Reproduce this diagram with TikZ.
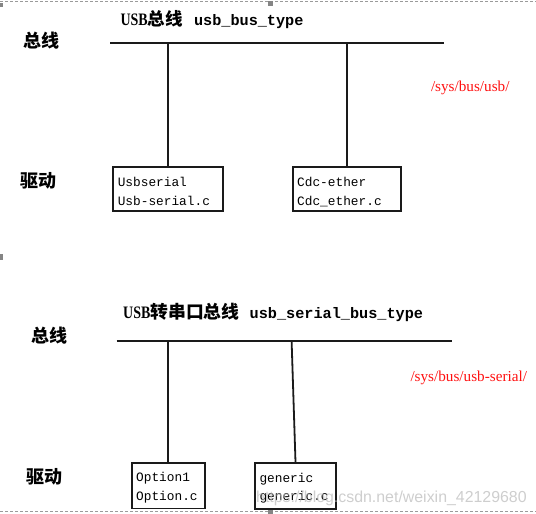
\documentclass[tikz,border=0pt]{standalone}
\usepackage{fontspec}
\setmainfont{Liberation Serif}
\setmonofont{Liberation Mono}
\setsansfont{Liberation Sans}
\newfontfamily\cjk{Noto Sans CJK SC}
\definecolor{inkline}{HTML}{1A1A1A}
\definecolor{frameg}{HTML}{9A9A9A}
\definecolor{markg}{HTML}{858585}
\definecolor{pathred}{HTML}{FF1010}
\begin{document}
\begin{tikzpicture}[x=1pt,y=-1pt,
  busline/.style={draw=inkline, line width=1.8pt},
  drvbox/.style={draw=inkline, line width=1.8pt, rectangle, align=left,
    inner xsep=4.5pt, inner ysep=0pt, text height=10pt,
    font=\fontsize{12.8}{18.3}\selectfont\ttfamily},
  sidelbl/.style={font=\fontsize{18}{18}\selectfont\cjk\bfseries, inner sep=0pt},
  titlelbl/.style={anchor=base west, inner sep=0pt},
  pathlbl/.style={text=pathred, font=\fontsize{15.2}{15.2}\selectfont, inner sep=0pt, anchor=base west},
  framedash/.style={draw=frameg, line width=0.8pt, dash pattern=on 3pt off 2pt},
  sqmark/.style={fill=markg}]
\useasboundingbox (0,0) rectangle (536,514);
\newcommand{\usbword}{\scalebox{0.8}[1]{\fontsize{17.5}{17.5}\selectfont\bfseries USB}}
% frame marks
\draw[framedash] (0,1.5) -- (536,1.5);
\draw[framedash] (0,511.5) -- (536,511.5);
\fill[sqmark] (0,3) rectangle (3,6.5);
\fill[sqmark] (268,0.5) rectangle (273,6);
\fill[sqmark] (0,254) rectangle (3,260);
\fill[sqmark] (268,508) rectangle (273,514);

% ---------- top section ----------
\node[titlelbl] (t1) at (120.3,25) {\usbword{\fontsize{17.5}{17.5}\selectfont\cjk\bfseries 总线}\hspace{11.3pt}{\fontsize{15.2}{15.2}\selectfont\ttfamily\bfseries usb\_bus\_type}};
\node[sidelbl] (bl1) at (41.3,40.5) {总线};
\node[sidelbl] (dl1) at (38,180.5) {驱动};
\node[pathlbl] (p1) at (430.8,91) {/sys/bus/usb/};

\coordinate (bus1L) at (110,43.3);
\coordinate (bus1R) at (444.4,43.3);
\draw[busline] (bus1L) -- (bus1R);

\node[drvbox, text width=100.4pt, text depth=14.6pt, minimum height=43.4pt] (b1) at (168,189) {Usbserial\\Usb-serial.c};
\node[drvbox, text width=99pt, text depth=14.6pt, minimum height=43.4pt] (b2) at (346.7,189) {Cdc-ether\\Cdc\_ether.c};
\draw[busline] (b1.north |- bus1L) -- (b1.north);
\draw[busline] (b2.north |- bus1L) -- (b2.north);

% ---------- bottom section ----------
\node[titlelbl] (t2) at (123,318) {\usbword{\fontsize{17.8}{17.8}\selectfont\cjk\bfseries 转串口总线}\hspace{10.3pt}{\fontsize{15.2}{15.2}\selectfont\ttfamily\bfseries usb\_serial\_bus\_type}};
\node[sidelbl] (bl2) at (49,335.5) {总线};
\node[sidelbl] (dl2) at (45,477) {驱动};
\node[pathlbl] (p2) at (410.3,381.7) {/sys/bus/usb-serial/};

\coordinate (bus2L) at (116.7,340.7);
\coordinate (bus2R) at (452,340.7);
\draw[busline] (bus2L) -- (bus2R);

\node[drvbox, text width=64.3pt, text depth=18pt, minimum height=45.5pt] (b3) at (168.35,485.7) {Option1\\Option.c};
\node[drvbox, text width=72pt, text depth=18pt, minimum height=46pt] (b4) at (295.5,486) {generic\\generic.c};
\coordinate (tap4) at (291.6,340.7);
\draw[busline] (b3.north |- bus2L) -- (b3.north);
\draw[busline] (tap4) -- (b4.north);

% watermark
\node[anchor=base west, inner sep=0pt, text=gray!55, opacity=0.7,
  font=\fontsize{15.9}{15.9}\selectfont\sffamily] (wm) at (256,502.5) {https://blog.csdn.net/weixin\_42129680};
\end{tikzpicture}
\end{document}
